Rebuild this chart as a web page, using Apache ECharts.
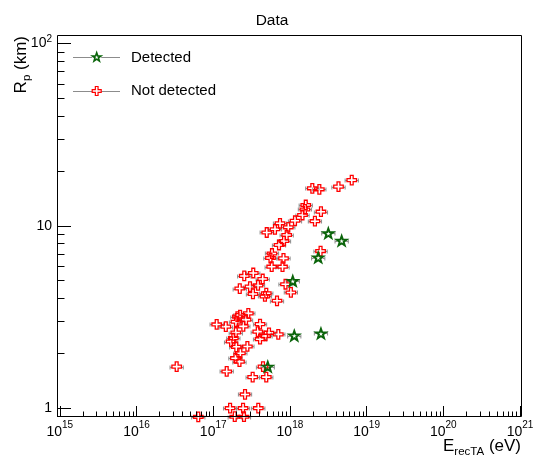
<!DOCTYPE html>
<html><head><meta charset="utf-8">
<script src="https://cdn.jsdelivr.net/npm/echarts@6/dist/echarts.min.js"></script>
<style>html,body{margin:0;padding:0;background:#fff}#c{width:535px;height:458px}</style>
</head><body><div id="c"></div>
<script>
// ---------------- data ----------------
const energyDetected = [3.17e18, 4.73e18, 2.34e18, 1.09e18, 1.14e18, 2.54e18, 5.14e17];
const rpDetected     = [9.10, 8.28, 6.70, 4.98, 2.50, 2.57, 1.69];

const energyNotDetected = [
  6.40e18, 4.30e18, 1.96e18, 2.42e18, 1.61e18, 2.54e18, 1.57e18, 1.46e18, 2.12e18, 1.165e18,
  7.43e17, 9.53e17, 6.39e17, 4.99e17, 9.08e17, 8.38e17, 7.21e17, 2.51e18, 5.84e17, 5.58e17,
  8.25e17, 5.79e17, 8.01e17, 3.33e17, 2.54e17, 4.42e17, 8.77e17, 3.02e17, 3.84e17, 2.22e17,
  4.92e17, 4.73e17, 3.30e17, 1.03e18, 6.79e17, 2.87e17, 2.24e17, 2.07e17, 2.68e17, 1.98e17,
  2.47e17, 4.08e17, 1.11e17, 1.46e17, 1.97e17, 3.81e17, 5.34e17, 7.06e17, 4.81e17, 1.83e17,
  4.08e17, 1.71e17, 2.00e17, 2.79e17, 2.26e17, 1.95e17, 2.20e17, 3.34e16, 1.50e17, 4.46e17,
  3.27e17, 4.92e17, 2.60e17, 1.66e17, 2.45e17, 3.87e17, 6.39e16, 1.91e17, 2.52e17
];
const rpNotDetected = [
  17.8, 16.4, 16.05, 15.85, 13.0, 11.95, 12.29, 11.46, 10.6, 10.66,
  10.32, 9.81, 9.57, 9.19, 8.90, 8.25, 7.85, 7.27, 7.05, 6.66,
  6.63, 5.97, 5.97, 5.51, 5.31, 5.11, 4.78, 4.64, 4.71, 4.53,
  4.27, 4.10, 4.23, 4.31, 3.88, 3.31, 3.24, 3.18, 3.06, 2.98,
  2.81, 2.89, 2.88, 2.80, 2.60, 2.63, 2.59, 2.54, 2.49, 2.42,
  2.39, 2.32, 2.17, 2.18, 2.00, 1.88, 1.80, 1.69, 1.59, 1.69,
  1.48, 1.48, 1.19, 1.00, 1.00, 1.00, 0.897, 0.898, 0.898
];
const energyRelErr = 0.22;

const xTickExponents = [15, 16, 17, 18, 19, 20, 21];
const yTickValues = [1, 10, 100];
const yTickLabels = [['1', ''], ['10', ''], ['10', '2']];

const titleText = 'Data';
const legendNames = ['Detected', 'Not detected'];
// --------------------------------------

(function () {
const FONTNAME = 'Liberation Sans';
const LX = 14.9635, HX = 21.013, LY = -0.04825, HY = 2.0406;
const GL = 57, GR = 14, GT = 36, GB = 41;
const xMin = Math.pow(10, LX), xMax = Math.pow(10, HX), yMin = Math.pow(10, LY), yMax = Math.pow(10, HY);

// marker outlines in a 0..20 box
const crossPts = [[7,0],[13,0],[13,7],[20,7],[20,13],[13,13],[13,20],[7,20],[7,13],[0,13],[0,7],[7,7]];
const starPts = [];
for (let k = 0; k < 10; k++) {
  const a = -Math.PI / 2 + k * Math.PI / 5;
  const r = (k % 2 === 0) ? 10 : 4.0;
  starPts.push([10 + r * Math.cos(a), 10 + r * Math.sin(a)]);
}
const toPath = pts => pts.map((p, i) => (i ? 'L' : 'M') + p[0].toFixed(3) + ',' + p[1].toFixed(3)).join('') + 'Z';

const RED = '#ff0000', GREEN = '#0a640a', GRAY = '#8c8c8c';

// tick values: majors at 10^n, minors at 2..9 x 10^n inside the ranges
const xMajor = [], xMinor = [], yMajor = [], yMinor = [];
for (let e = 14; e <= 21; e++) for (let m = 1; m <= 9; m++) {
  const v = m * Math.pow(10, e);
  if (v >= xMin && v <= xMax) (m === 1 ? xMajor : xMinor).push(v);
}
for (let e = -1; e <= 2; e++) for (let m = 1; m <= 9; m++) {
  const v = m * Math.pow(10, e);
  if (v >= yMin && v <= yMax) (m === 1 ? yMajor : yMinor).push(v);
}

const chart = echarts.init(document.getElementById('c'), null, { renderer: 'canvas' });

function errSeries(xs, ys, halfGap) {
  return {
    type: 'custom', coordinateSystem: 'cartesian2d', silent: true, clip: false, z: 1,
    data: xs.map((x, i) => [x, ys[i]]),
    renderItem: function (params, api) {
      const x = api.value(0), y = api.value(1);
      const c = api.coord([x, y]);
      const l = api.coord([x / (1 + energyRelErr), y]);
      const r = api.coord([x * (1 + energyRelErr), y]);
      const yy = Math.round(c[1]) + 0.5;
      const st = { stroke: GRAY, lineWidth: 1 };
      const ch = [];
      if (c[0] - halfGap > l[0]) ch.push({ type: 'line', shape: { x1: l[0], y1: yy, x2: c[0] - halfGap, y2: yy }, style: st });
      if (c[0] + halfGap < r[0]) ch.push({ type: 'line', shape: { x1: c[0] + halfGap, y1: yy, x2: r[0], y2: yy }, style: st });
      ch.push({ type: 'line', shape: { x1: l[0], y1: yy - 2, x2: l[0], y2: yy + 2 }, style: st });
      ch.push({ type: 'line', shape: { x1: r[0], y1: yy - 2, x2: r[0], y2: yy + 2 }, style: st });
      return { type: 'group', children: ch };
    }
  };
}

function logAxis(min, max, pos, ticks, len) {
  return {
    type: 'log', min: min, max: max, position: pos, offset: 0, z: 6,
    axisLine: { show: false }, axisLabel: { show: false }, splitLine: { show: false },
    axisTick: { show: true, inside: true, length: len, customValues: ticks, lineStyle: { color: '#000', width: 1 } }
  };
}

chart.setOption({
  animation: false,
  grid: { left: GL, right: GR, top: GT, bottom: GB, show: false, containLabel: false },
  xAxis: [logAxis(xMin, xMax, 'bottom', xMajor, 11), logAxis(xMin, xMax, 'bottom', xMinor, 5.5)],
  yAxis: [logAxis(yMin, yMax, 'left', yMajor, 14), logAxis(yMin, yMax, 'left', yMinor, 7.5)],
  series: [
    errSeries(energyNotDetected, rpNotDetected, 4.5),
    errSeries(energyDetected, rpDetected, 4.5),
    {
      name: legendNames[1], type: 'scatter', clip: false, z: 3,
      data: energyNotDetected.map((x, i) => [x, rpNotDetected[i]]),
      symbol: 'path://' + toPath(crossPts), symbolSize: 9.5,
      itemStyle: { color: 'rgba(255,255,255,0)', borderColor: RED, borderWidth: 1.3, opacity: 1 }
    },
    {
      name: legendNames[0], type: 'scatter', clip: false, z: 4,
      data: energyDetected.map((x, i) => [x, rpDetected[i]]),
      symbol: 'path://' + toPath(starPts), symbolSize: [10, 9.5],
      itemStyle: { color: 'rgba(255,255,255,0)', borderColor: GREEN, borderWidth: 1.9, opacity: 1 }
    }
  ]
});

// ---------- frame, labels, titles, legend ----------
const mctx = document.createElement('canvas').getContext('2d');
function measure(t, size) { mctx.font = size + 'px "' + FONTNAME + '"'; return mctx.measureText(t).width; }
function textLine(arr, parts, x, baseline, align) {
  const ws = parts.map(p => measure(p[0], p[1]));
  const W = ws.reduce((a, b) => a + b, 0);
  let s = align === 'right' ? x - W : align === 'center' ? x - W / 2 : x;
  parts.forEach((p, i) => {
    if (p[0] !== '') arr.push({
      type: 'text', x: s, y: baseline + p[2] - 0.3465 * p[1], silent: true, z: 10,
      style: { text: p[0], font: p[1] + 'px "' + FONTNAME + '"', fill: '#000', align: 'left', verticalAlign: 'middle' }
    });
    s += ws[i];
  });
}
const toPx = (x, y) => chart.convertToPixel({ gridIndex: 0 }, [x, y]);
const pBL = toPx(xMin, yMin), pTR = toPx(xMax, yMax);
const fLeft = pBL[0], fBottom = pBL[1], fRight = pTR[0], fTop = pTR[1];

const g = [];
g.push({ type: 'rect', z: 9, silent: true,
  shape: { x: Math.round(fLeft) + 0.5, y: Math.round(fTop) - 0.5, width: Math.round(fRight) - Math.round(fLeft), height: Math.round(fBottom) - Math.round(fTop) },
  style: { fill: 'none', stroke: '#000', lineWidth: 1 } });

// x labels
xTickExponents.forEach(e => {
  const px = toPx(Math.pow(10, e), yMin)[0];
  textLine(g, [['10', 14, 0], [String(e), 10, -8]], px, 437, 'center');
});
// y labels
yTickValues.forEach((v, i) => {
  const py = toPx(xMin, v)[1];
  textLine(g, [[yTickLabels[i][0], 14, 0], [yTickLabels[i][1], 10, -6]], 52, py + 5, 'right');
});
// title
textLine(g, [[titleText, 15.5, 0]], 272, 26.5, 'center');
// x axis title
textLine(g, [['E', 17, 0], ['recTA', 11.5, 3.5], [' (eV)', 17, 0]], fRight, 452, 'right');
// y axis title (rotated)
const yt = [];
textLine(yt, [['R', 17, 0], ['p', 11.5, 3.5], [' (km)', 17, 0]], 0, 0, 'right');
g.push({ type: 'group', x: 27.5, y: fTop, rotation: Math.PI / 2, children: yt, z: 10 });

// legend
const legY = [57.3, 91];
const legSym = [[starPts, GREEN, 1.6, 9], [crossPts, RED, 1.2, 9]];
legendNames.forEach((name, i) => {
  const y = legY[i];
  g.push({ type: 'line', z: 9, silent: true, shape: { x1: 73, y1: Math.round(y) + 0.5, x2: 120, y2: Math.round(y) + 0.5 }, style: { stroke: GRAY, lineWidth: 1 } });
  const s = legSym[i];
  const sc = s[3] / 20;
  g.push({ type: 'rect', z: 9, silent: true, shape: { x: 96.7 - s[3] / 2, y: y - s[3] / 2, width: s[3], height: s[3] }, style: { fill: '#fff' } });
  g.push({ type: 'polygon', z: 10, silent: true,
    shape: { points: s[0].map(p => [96.7 - s[3] / 2 + p[0] * sc, y - s[3] / 2 + p[1] * sc]) },
    style: { fill: 'none', stroke: s[1], lineWidth: s[2] } });
  textLine(g, [[name, 15, 0]], 131, y + 5.3, 'left');
});

chart.setOption({ graphic: { elements: g } });
})();
</script>
</body></html>
